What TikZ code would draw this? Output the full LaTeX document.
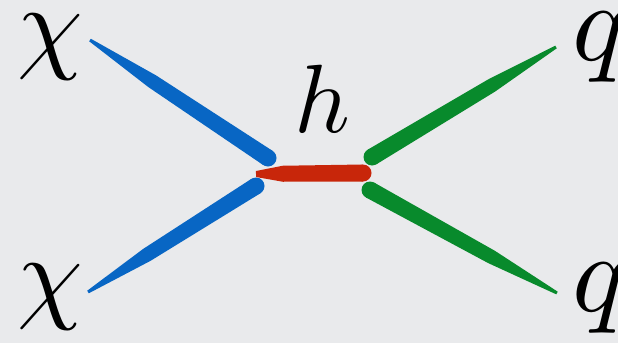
\documentclass[tikz,border=0pt]{standalone}
\usetikzlibrary{calc}
\definecolor{bgc}{RGB}{233,234,236}
\definecolor{myblue}{RGB}{8,102,196}
\definecolor{myred}{RGB}{200,38,10}
\definecolor{mygreen}{RGB}{8,138,44}
% color, thin end, thick end, thin half-width, middle half-width, thick half-width, middle fraction
\newcommand{\taper}[7]{%
  \fill[#1] ($(#2)!#4!90:(#3)$) -- ($(#2)!#7!(#3)!#5!90:(#3)$) -- ($(#3)!#6!-90:(#2)$)
    -- ($(#3)!#6!90:(#2)$) -- ($(#2)!#7!(#3)!#5!-90:(#3)$) -- ($(#2)!#4!-90:(#3)$) -- cycle;
  \fill[#1] (#3) circle (#6);}
\tikzset{lbl/.style={inner sep=0pt,anchor=base,scale=11.2},
         lblc/.style={inner sep=0pt,anchor=base,scale=10.5},
         lblh/.style={inner sep=0pt,anchor=base,scale=9.7}}
\begin{document}
\begin{tikzpicture}[x=1pt,y=-1pt]
\useasboundingbox (0,0) rectangle (618,343);
\fill[bgc] (0,0) rectangle (618,343);
\coordinate (b1o) at (90,40);
\coordinate (b1i) at (268,158);
\coordinate (b2o) at (88,292);
\coordinate (b2i) at (256,186);
\coordinate (ro) at (256,174);
\coordinate (ri) at (363,173);
\coordinate (g1i) at (372,157);
\coordinate (g1o) at (556,47);
\coordinate (g2i) at (370,190);
\coordinate (g2o) at (557,293);
\taper{myblue}{b1o}{b1i}{1.5pt}{7pt}{8.5pt}{0.35}
\taper{myblue}{b2o}{b2i}{1.5pt}{7pt}{8.5pt}{0.35}
\taper{mygreen}{g1o}{g1i}{1.5pt}{7pt}{8.5pt}{0.35}
\taper{mygreen}{g2o}{g2i}{1.5pt}{7pt}{8.5pt}{0.35}
\taper{myred}{ro}{ri}{3pt}{8pt}{8.5pt}{0.25}
\node[lblc] (chi1) at (50,59) {$\chi$};
\node[lblc] (chi2) at (50,309) {$\chi$};
\node[lbl] (q1) at (599,60) {$q$};
\node[lbl] (q2) at (599,311) {$q$};
\node[lblh] (h) at (322,132) {$h$};
\end{tikzpicture}
\end{document}
